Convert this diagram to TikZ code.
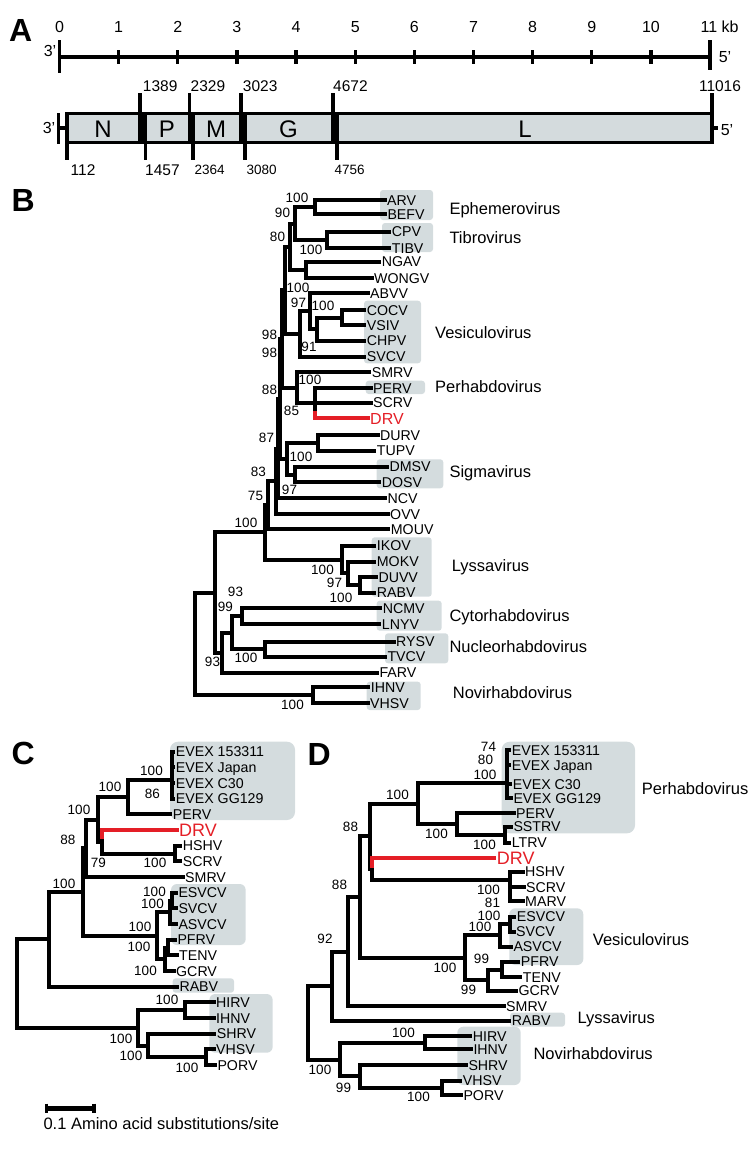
\documentclass[tikz,border=0pt]{standalone}
\usepackage{fontspec}
\setmainfont{Liberation Sans}
\definecolor{cladegray}{RGB}{212,220,222}
\definecolor{genegray}{RGB}{212,219,221}
\definecolor{drvred}{RGB}{228,30,38}

\tikzset{
  br/.style={line width=4pt, line cap=rect},
  gl/.style={line width=3.6pt},
  lf/.style={anchor=west, inner sep=0pt, font=\fontsize{14.2}{16}\selectfont, text height=10.2pt, text depth=0pt},
  drvlab/.style={anchor=west, inner sep=0pt, text=drvred, text depth=0pt},
  bs/.style={inner sep=0pt, font=\fontsize{13.5}{15}\selectfont},
  clade/.style={anchor=west, inner sep=0pt, font=\fontsize{16.5}{18}\selectfont, text height=11.8pt, text depth=0pt},
  clbox/.style={fill=cladegray, rounded corners=3pt},
  panel/.style={inner sep=0pt, font=\fontsize{32}{32}\selectfont\bfseries},
  kbnum/.style={inner sep=0pt, font=\fontsize{16}{18}\selectfont},
  ntnum/.style={anchor=west, inner sep=0pt, font=\fontsize{15.5}{17}\selectfont},
  ntsmall/.style={anchor=west, inner sep=0pt, font=\fontsize{13.5}{15}\selectfont},
  genelab/.style={inner sep=0pt, font=\fontsize{24}{26}\selectfont},
}

\begin{document}
\begin{tikzpicture}[x=1pt, y=-1pt]
\useasboundingbox (0,0) rectangle (750,1152);

% A: genome
\node[panel] (pA) at (20.8,30.8) {A};
\foreach \k in {0,...,10}
  \node[kbnum] (kb\k) at ({59.5+59.14*\k},27) {\k};
\node[kbnum, anchor=west] (kb11) at (700.5,27) {11 kb};
\node[kbnum] (r3) at (50,51) {3'};
\node[kbnum] (r5) at (725,57) {5'};
\draw[gl] (59.5,57) -- (710,57);
\draw[gl] (59.5,40) -- (59.5,73);
\draw[gl] (710,40) -- (710,70);
\foreach \k in {1,...,10}
  \draw[gl, line width=3.3pt] ({59.5+59.14*\k},50) -- ({59.5+59.14*\k},64);

\fill[genegray] (67,113.5) rectangle (712,142.5);
\draw[gl] (67,113.5) rectangle (712,142.5);
\fill (140,113.5) rectangle (145.5,142.5);
\fill (189.3,113.5) rectangle (193,142.5);
\foreach \gx in {140,145.5,189.3,193,240.7,245,332.7,337}
  \draw[gl] (\gx,113.5) -- (\gx,142.5);
\foreach \gx in {140,189.3,240.7,332.7,712}
  \draw[gl] (\gx,93) -- (\gx,113.5);
\foreach \gx in {67,145.5,193,245,337}
  \draw[gl] (\gx,142.5) -- (\gx,160);
\draw[gl] (58.5,113) -- (58.5,144) (58.5,128) -- (67,128);
\draw[gl] (712,128) -- (718,128);
\node[kbnum] (g3) at (49,128) {3'};
\node[kbnum] (g5) at (727,130) {5'};

\node[genelab] (gN) at (103,129) {N};
\node[genelab] (gP) at (167,129) {P};
\node[genelab] (gM) at (216,129) {M};
\node[genelab] (gG) at (288.5,129) {G};
\node[genelab] (gL) at (525,129) {L};

\node[ntnum] (n1389) at (142.7,86) {1389};
\node[ntnum] (n2329) at (190.5,86) {2329};
\node[ntnum] (n3023) at (242.7,86) {3023};
\node[ntnum] (n4672) at (333,86) {4672};
\node[ntnum, anchor=center] (n11016) at (720,86) {11016};
\node[ntnum] (n112) at (70.5,170) {112};
\node[ntnum] (n1457) at (145,170) {1457};
\node[ntsmall] (n2364) at (194.5,170) {2364};
\node[ntsmall] (n3080) at (246.5,170) {3080};
\node[ntsmall] (n4756) at (334.5,170) {4756};

% B: all rhabdoviruses
\node[panel] (pB) at (23.3,200.8) {B};
\fill[clbox] (380,190) rectangle (433,220);
\fill[clbox] (382,223) rectangle (433,252);
\fill[clbox] (364,300.7) rectangle (421,363.3);
\fill[clbox] (365.7,380.7) rectangle (425,394);
\fill[clbox] (376.7,459.3) rectangle (443.3,488.3);
\fill[clbox] (371.7,537.3) rectangle (431.7,596.7);
\fill[clbox] (376.7,600.7) rectangle (441.7,630.7);
\fill[clbox] (385,633.3) rectangle (448.3,663.3);
\fill[clbox] (366.7,681.7) rectangle (420.7,710);

\foreach \x/\t/\b/\p in {315/200/214.3/295, 326.7/231.7/248/295,
    295/207.15/239.85/290, 306/261.7/278.3/290, 290/223.5/270/284.5,
    341.7/310/325/316.7, 316.7/317.5/340.7/310, 310/293.3/329.1/300,
    300/311.2/356.7/284.5, 284.5/246.75/333.95/282,
    315/388.3/418.3/296.7, 296.7/372.3/403.3/282, 282/290.35/387.8/280,
    318/435/450.7/286.7, 295/466.7/482.3/286.7, 286.7/442.85/474.5/280,
    280/339.08/458.68/278, 278/398.88/498.3/275.5, 275.5/448.59/514/268.3,
    268.3/481.3/529.3/265, 360/577.3/592.7/348.3, 348.3/561.7/585/341.7,
    341.7/545.7/573.35/265, 265/505.3/559.53/215,
    241.7/608.3/624/231.7, 265/641.7/656.7/231.7, 231.7/616.15/649.2/221.7,
    221.7/632.68/672.7/215, 215/532.4/652.69/195, 313.3/687.3/703.3/195}
  \draw[br] (\x,\t) -- (\x,\b) (\x,{(\t+\b)/2}) -- (\p,{(\t+\b)/2});
\draw[br] (195,592.55) -- (195,695.3);

\foreach \nm/\lx/\ly/\sx/\txt in {bARV/387/200/315/ARV, bBEFV/387.3/214.3/315/BEFV,
    bCPV/391.7/231.7/326.7/CPV, bTIBV/391.7/248/326.7/TIBV,
    bNGAV/381.7/261.7/306/NGAV, bWONGV/374/278.3/306/WONGV,
    bABVV/370/293.3/310/ABVV, bCOCV/366.7/310/341.7/COCV,
    bVSIV/366.7/325/341.7/VSIV, bCHPV/366.7/340.7/316.7/CHPV,
    bSVCV/366.7/356.7/300/SVCV, bSMRV/371.7/372.3/296.7/SMRV,
    bPERV/373/388.3/315/PERV, bSCRV/373/402.7/315/SCRV,
    bDURV/380/435/318/DURV, bTUPV/376.7/450.7/318/TUPV,
    bDMSV/389.3/466.7/295/DMSV, bDOSV/381.7/482.3/295/DOSV,
    bNCV/387.3/498.3/278/NCV, bOVV/390/514/275.5/OVV,
    bMOUV/390.7/529.3/268.3/MOUV, bIKOV/376.7/545.7/341.7/IKOV,
    bMOKV/376.7/561.7/348.3/MOKV, bDUVV/378.3/577.3/360/DUVV,
    bRABV/376.7/592.7/360/RABV, bNCMV/382.7/608.3/241.7/NCMV,
    bLNYV/381.7/624/241.7/LNYV, bRYSV/396/641.7/265/RYSV,
    bTVCV/387.3/656.7/265/TVCV, bFARV/379.3/672.7/221.7/FARV,
    bIHNV/370.7/687.3/313.3/IHNV, bVHSV/370/703.3/313.3/VHSV} {
  \node[lf] (\nm) at (\lx,\ly) {\txt};
  \draw[br, shorten >=2.5pt] (\sx,\ly) -- (\nm.west);
}
\node[drvlab, font=\fontsize{16}{18}\selectfont, text height=11.5pt] (bDRV) at (370,418.3) {DRV};
\draw[br, drvred, shorten >=2.5pt] (315,418.3) -- (bDRV.west);
\draw[br, drvred] (315,413) -- (315,418.3);

\foreach \x/\y/\t [count=\i] in {297/198/100, 282.5/213/90, 277.5/237/80,
    311/250/100, 298/288/100, 298.5/303/97, 323/306/100, 309/346.7/91,
    269.5/335/98, 269.5/353/98, 310/380/100, 291.5/411/85, 269.5/390/88,
    266.5/438/87, 301/457/100, 289.5/490/97, 258.5/472/83, 255.5/496/75,
    246/523/100, 322.5/570/100, 334.5/583/97, 341/598/100, 235.5/592/93,
    225.5/607/99, 246/658/100, 212.5/662/93, 292.5/705/100}
  \node[bs] (bsB\i) at (\x,\y) {\t};

\node[clade] (cEph) at (449.3,208.3) {Ephemerovirus};
\node[clade] (cTib) at (449.3,237.3) {Tibrovirus};
\node[clade] (cVesB) at (435,332.7) {Vesiculovirus};
\node[clade] (cPerB) at (435,386.7) {Perhabdovirus};
\node[clade] (cSig) at (449.3,471.7) {Sigmavirus};
\node[clade] (cLysB) at (451.7,566) {Lyssavirus};
\node[clade] (cCyt) at (449.3,616) {Cytorhabdovirus};
\node[clade] (cNuc) at (449.3,646.7) {Nucleorhabdovirus};
\node[clade] (cNovB) at (452.7,692.3) {Novirhabdovirus};

% C: amino acid tree
\node[panel] (pC) at (23.3,753.3) {C};
\fill[clbox, rounded corners=8pt] (170,741.7) rectangle (295,820);
\fill[clbox, rounded corners=6pt] (171,884) rectangle (245.7,945);
\fill[clbox] (172.7,978.3) rectangle (234,992.7);
\fill[clbox, rounded corners=6pt] (209.3,994) rectangle (272.7,1052.7);

\draw[br] (171.7,751.7) -- (171.7,798.7) (171.7,780) -- (128.3,780);
\foreach \x/\t/\b/\p in {128.3/780/814.4/98.3, 175/845.7/861.4/101.7,
    101.7/830/853.55/98.3, 98.3/797.2/841.78/86, 86/819.49/877.1/82.7,
    171.7/892.7/908.4/170, 170/900.55/924.1/156.7, 168.3/939.7/955.4/165,
    165/947.55/971.1/156.7, 156.7/912.33/959.33/82.7, 82.7/848.3/935.83/49.3,
    49.3/892.07/986.8/16.7, 185/1002.4/1018.1/138.3, 206/1049.4/1065.1/148.3,
    148.3/1033.8/1057.25/138.3, 138.3/1010.25/1045.53/16.7}
  \draw[br] (\x,\t) -- (\x,\b) (\x,{(\t+\b)/2}) -- (\p,{(\t+\b)/2});
\draw[br] (16.7,939.43) -- (16.7,1027.89);

\foreach \nm/\lx/\ly/\sx/\txt in {cE1/175.7/751.7/171.7/EVEX 153311,
    cE2/175.7/767.4/171.7/EVEX Japan, cE3/175.7/783/171.7/EVEX C30,
    cE4/175.7/798.7/171.7/EVEX GG129, cPERV/172.7/814.4/128.3/PERV,
    cHSHV/182.7/845.7/175/HSHV, cSCRV/182.7/861.4/175/SCRV,
    cSMRV/185/877.1/86/SMRV, cESVCV/178.3/892.7/171.7/ESVCV,
    cSVCV/178.3/908.4/171.7/SVCV, cASVCV/178.3/924.1/170/ASVCV,
    cPFRV/177.3/939.7/168.3/PFRV, cTENV/179/955.4/168.3/TENV,
    cGCRV/176/971.1/165/GCRV, cRABV/179.3/986.8/49.3/RABV,
    cHIRV/216/1002.4/185/HIRV, cIHNV/216/1018.1/185/IHNV,
    cSHRV/216.7/1033.8/148.3/SHRV, cVHSV/216/1049.4/206/VHSV,
    cPORV/217.3/1065.1/206/PORV} {
  \node[lf] (\nm) at (\lx,\ly) {\txt};
  \draw[br, shorten >=2.5pt] (\sx,\ly) -- (\nm.west);
}
\node[drvlab, font=\fontsize{18}{20}\selectfont, text height=12.9pt] (cDRV) at (179,830) {DRV};
\draw[br, drvred, shorten >=2.5pt] (101.7,830) -- (cDRV.west);
\draw[br, drvred] (101.7,830) -- (101.7,837);

\foreach \x/\y/\t [count=\i] in {151.5/770.7/100, 152.5/794/86, 110/787.3/100,
    79/810/100, 68/840/88, 98.5/863.3/79, 155/863.3/100, 64/883.5/100,
    154.5/891.7/100, 152.5/904/100, 140/927.3/100, 139/946.7/100,
    145.5/970.7/100, 167/1000/100, 121/1039.3/100, 131/1056/100, 187/1068.3/100}
  \node[bs] (bsC\i) at (\x,\y) {\t};

\coordinate (sb0) at (46.7,1108.3);
\coordinate (sb1) at (94,1108.3);
\draw[line width=4.5pt] (sb0) -- (sb1);
\draw[line width=3.3pt] ([yshift=4.8pt]sb0) -- ([yshift=-4.8pt]sb0)
  ([yshift=4.8pt]sb1) -- ([yshift=-4.8pt]sb1);
\node[clade, anchor=west] (sbtxt) at (43.3,1123.3) {0.1 Amino acid substitutions/site};

% D: nucleotide tree
\node[panel] (pD) at (319.2,754.2) {D};
\fill[clbox, rounded corners=8pt] (501.7,741.7) rectangle (635,833.3);
\fill[clbox, rounded corners=6pt] (509.3,908.3) rectangle (583.3,965);
\fill[clbox] (510,1012.7) rectangle (565,1026.7);
\fill[clbox, rounded corners=6pt] (457.3,1026.7) rectangle (520.7,1085);

\draw[br] (506.5,750) -- (506.5,798.3) (506.5,783.3) -- (418.3,783.3);
\draw[br] (510,871.7) -- (510,901) (510,880) -- (371.7,880);
\foreach \x/\t/\b/\p in {505/826.7/842.7/456.7, 456.7/813.3/834.7/418.3,
    418.3/783.3/824/370, 371.7/858.3/880/370,
    370/803.65/869.15/360, 510/916.7/931.7/500, 500/924.2/946.7/465,
    501.7/961.7/977.3/488.3, 488.3/969.5/990.7/465, 465/935.45/980.1/360,
    360/836.4/957.78/348.3, 348.3/897.09/1006/331.7, 331.7/951.55/1020.7/308.3,
    425/1036/1049.3/340, 441.7/1080.7/1095/360, 360/1065/1087.85/340,
    340/1042.65/1076.43/308.3}
  \draw[br] (\x,\t) -- (\x,\b) (\x,{(\t+\b)/2}) -- (\p,{(\t+\b)/2});
\draw[br] (308.3,986.13) -- (308.3,1059.54);

\foreach \nm/\lx/\ly/\sx/\txt in {dE1/511.7/750/506.5/EVEX 153311,
    dE2/511.7/765.3/506.5/EVEX Japan, dE3/512.7/784/506.5/EVEX C30,
    dE4/513.3/798.3/506.5/EVEX GG129, dPERV/516/813.3/456.7/PERV,
    dSSTRV/513.3/826.7/505/SSTRV, dLTRV/511.7/842.7/505/LTRV,
    dHSHV/525/871.7/510/HSHV, dSCRV/526/887.3/510/SCRV,
    dMARV/525/901/510/MARV, dESVCV/516.7/916.7/510/ESVCV,
    dSVCV/516/931.7/510/SVCV, dASVCV/513.3/946.7/500/ASVCV,
    dPFRV/520.7/961.7/501.7/PFRV, dTENV/522.7/977.3/501.7/TENV,
    dGCRV/518.3/990.7/488.3/GCRV, dSMRV/506/1006/348.3/SMRV,
    dRABV/511.7/1020.7/331.7/RABV, dHIRV/472.7/1036/425/HIRV,
    dIHNV/473.3/1049.3/425/IHNV, dSHRV/468.3/1065/360/SHRV,
    dVHSV/462.7/1080.7/441.7/VHSV, dPORV/463.3/1095/441.7/PORV} {
  \node[lf] (\nm) at (\lx,\ly) {\txt};
  \draw[br, shorten >=2.5pt] (\sx,\ly) -- (\nm.west);
}
\node[drvlab, font=\fontsize{18}{20}\selectfont, text height=12.9pt] (dDRV) at (496.7,858.3) {DRV};
\draw[br, drvred, shorten >=2.5pt] (371.7,858.3) -- (dDRV.west);
\draw[br, drvred] (371.7,858.3) -- (371.7,866);

\foreach \x/\y/\t [count=\i] in {488.5/746.7/74, 485.5/760/80, 485/775/100,
    397.5/795/100, 436.5/834/100, 484.5/845/100, 350.5/826.7/88, 339.5/885/88,
    488.5/889.5/100, 492.5/903/81, 489/915.5/100, 480/927.3/100, 481.5/959.3/99,
    445/968.3/100, 468.5/990/99, 325/939.3/92, 403.5/1032.7/100, 320/1070/100,
    343.5/1088.3/99, 418.5/1096.7/100}
  \node[bs] (bsD\i) at (\x,\y) {\t};

\node[clade] (cPerD) at (641.7,788.3) {Perhabdovirus};
\node[clade] (cVesD) at (592.7,939.3) {Vesiculovirus};
\node[clade] (cLysD) at (577.3,1017.3) {Lyssavirus};
\node[clade] (cNovD) at (533.3,1053.3) {Novirhabdovirus};

\end{tikzpicture}
\end{document}
